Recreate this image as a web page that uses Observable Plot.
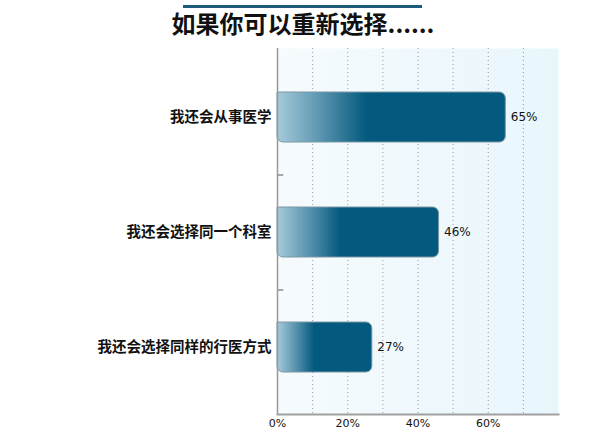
<!DOCTYPE html>
<html>
<head>
<meta charset="utf-8">
<script src="https://cdn.jsdelivr.net/npm/d3@7"></script>
<script src="https://cdn.jsdelivr.net/npm/@observablehq/plot@0.6"></script>
<style>
  body { margin: 0; background: #fff; width: 600px; height: 439px; position: relative; overflow: hidden; }
  #bar { position: absolute; top: 5px; left: 183px; width: 239px; height: 3px; background: #1d5b7b; }
  #title { position: absolute; top: 6px; left: 0; width: 606px; text-align: center;
    font-family: "Noto Sans CJK SC", sans-serif; font-weight: bold; font-size: 24px; color: #111; line-height: 34px; }
  #chart { position: absolute; top: 40px; left: 0; }
</style>
</head>
<body>
<div id="bar"></div>
<div id="title">如果你可以重新选择......</div>
<div id="chart"></div>
<script>
const categories = ["我还会从事医学", "我还会选择同一个科室", "我还会选择同样的行医方式"];
const values = [65, 46, 27];
const xTicks = [0, 20, 40, 60];
const gridValues = [10, 20, 30, 40, 50, 60, 70];

const data = categories.map((c, i) => ({category: c, value: values[i]}));

const chart = Plot.plot({
  width: 600,
  height: 399,
  marginTop: 8,
  marginBottom: 25,
  marginLeft: 277,
  marginRight: 42,
  style: {fontFamily: "DejaVu Sans, sans-serif", background: "transparent", overflow: "visible"},
  x: {domain: [0, 80]},
  y: {domain: categories, paddingInner: 0.565, paddingOuter: 0.2825, insetTop: 11.5, insetBottom: 9.5},
  marks: [
    Plot.frame({fill: "url(#bgGrad)", stroke: null}),
    Plot.ruleX(gridValues, {stroke: "#9a9a9a", strokeDasharray: "1,3", strokeWidth: 1}),
    Plot.ruleY(categories.slice(0, 2), {y: d => d, x1: 0, x2: 1.8, dy: 57.5, stroke: "#555", strokeWidth: 1}),
    Plot.barX(data, {x: "value", y: "category", fill: "url(#barGrad)", stroke: "#7d97a5", strokeWidth: 1, rx2: 6, ry2: 6}),
    Plot.text(data, {x: "value", y: "category", text: d => d.value + "%", dx: 5, textAnchor: "start",
      fontSize: 12, fill: "#111"}),
    Plot.ruleX([0], {stroke: "#999", strokeWidth: 1.5}),
    Plot.frame({anchor: "bottom", stroke: "#a0a0a0", strokeWidth: 2}),
    Plot.axisX({ticks: xTicks, tickFormat: d => d + "%", tickSize: 0, tickPadding: 5, label: null,
      fontSize: 11, fill: "#111"}),
    Plot.axisY({tickSize: 0, tickPadding: 6, label: null, fontSize: 14.5, fontWeight: "bold",
      fontFamily: "Noto Sans CJK SC, sans-serif", fill: "#111"})
  ]
});

const ns = "http://www.w3.org/2000/svg";
const defs = document.createElementNS(ns, "defs");
defs.innerHTML = `
  <linearGradient id="barGrad" x1="0" y1="0" x2="1" y2="0">
    <stop offset="0" stop-color="#a6cbdb"/>
    <stop offset="0.18" stop-color="#5f98b2"/>
    <stop offset="0.39" stop-color="#045a7e"/>
    <stop offset="1" stop-color="#045a7e"/>
  </linearGradient>
  <linearGradient id="bgGrad" x1="0" y1="0" x2="1" y2="0">
    <stop offset="0" stop-color="#f6fbfd"/>
    <stop offset="1" stop-color="#e8f6fc"/>
  </linearGradient>`;
chart.insertBefore(defs, chart.firstChild);
document.getElementById("chart").appendChild(chart);
</script>
</body>
</html>
